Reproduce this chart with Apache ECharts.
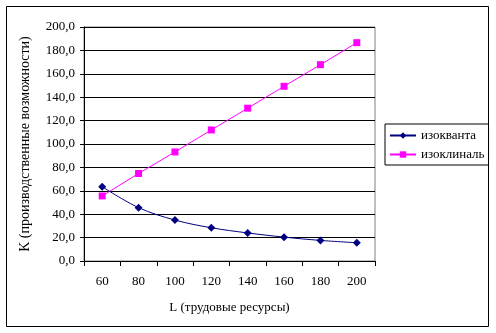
<!DOCTYPE html>
<html>
<head>
<meta charset="utf-8">
<script src="https://cdn.jsdelivr.net/npm/echarts@6/dist/echarts.min.js"></script>
<style>
  html, body { margin: 0; padding: 0; background: #fff; }
  #chart { width: 496px; height: 333px; }
</style>
</head>
<body>
<div id="chart"></div>
<script>
// Labour input L and the two curves of the production model
const laborL = ['60', '80', '100', '120', '140', '160', '180', '200'];
const isoquant = [63.5, 45.6, 35.0, 28.4, 24.0, 20.4, 17.6, 15.6];
const isocline = [55.6, 74.8, 93.2, 112.0, 130.6, 149.3, 167.8, 186.6];
const yTicks = { min: 0, max: 200, step: 20 };

const FONT = '"Liberation Serif", "Times New Roman", serif';

const chart = echarts.init(document.getElementById('chart'), null, { renderer: 'canvas' });

chart.setOption({
  animation: false,
  backgroundColor: '#ffffff',
  textStyle: { fontFamily: FONT, color: '#000' },
  graphic: [{
    type: 'rect',
    shape: { x: 6.5, y: 6.5, width: 482, height: 320 },
    style: { fill: 'none', stroke: '#000', lineWidth: 1 },
    silent: true
  }],
  grid: {
    left: 84, top: 27, right: 121, bottom: 72,
    show: true, borderColor: '#808080', borderWidth: 1, backgroundColor: 'transparent'
  },
  legend: {
    orient: 'vertical',
    left: 385, top: 124,
    width: 102,
    padding: [5, 4, 4, 4],
    itemGap: 6,
    itemWidth: 26, itemHeight: 8,
    borderColor: '#000', borderWidth: 1,
    textStyle: { fontFamily: FONT, fontSize: 13, color: '#000' },
    data: ['изокванта', 'изоклиналь']
  },
  xAxis: {
    type: 'category',
    data: laborL,
    boundaryGap: true,
    name: 'L (трудовые ресурсы)',
    nameLocation: 'middle',
    nameGap: 40,
    nameTextStyle: { fontFamily: FONT, fontSize: 13, color: '#000' },
    axisLine: { lineStyle: { color: '#000', width: 1 } },
    axisTick: { show: true, length: 5, lineStyle: { color: '#000' } },
    axisLabel: { fontFamily: FONT, fontSize: 13, color: '#000', margin: 14 },
    splitLine: { show: false }
  },
  yAxis: {
    type: 'value',
    min: yTicks.min, max: yTicks.max, interval: yTicks.step,
    name: 'K (производственные возможности)',
    nameLocation: 'middle',
    nameGap: 52,
    nameTextStyle: { fontFamily: FONT, fontSize: 14, color: '#000' },
    axisLine: { show: true, lineStyle: { color: '#000', width: 1 } },
    axisTick: { show: true, length: 4, lineStyle: { color: '#000' } },
    axisLabel: {
      fontFamily: FONT, fontSize: 13, color: '#000', margin: 9,
      formatter: v => v.toFixed(1).replace('.', ',')
    },
    splitLine: { show: true, lineStyle: { color: '#000', width: 1 } }
  },
  series: [
    {
      name: 'изокванта',
      type: 'line',
      data: isoquant,
      smooth: 0.35,
      symbol: 'diamond',
      symbolSize: 8,
      lineStyle: { color: '#000080', width: 1 },
      itemStyle: { color: '#000080' },
      z: 3
    },
    {
      name: 'изоклиналь',
      type: 'line',
      data: isocline,
      symbol: 'rect',
      symbolSize: 7,
      lineStyle: { color: '#ff00ff', width: 1 },
      itemStyle: { color: '#ff00ff' },
      z: 2
    }
  ]
});
</script>
</body>
</html>
